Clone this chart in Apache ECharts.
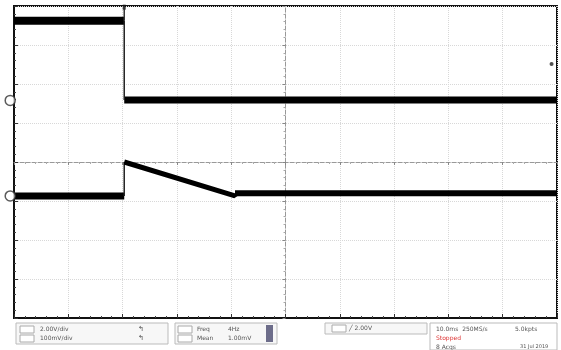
<!DOCTYPE html>
<html>
<head>
<meta charset="utf-8">
<script src="https://cdn.jsdelivr.net/npm/echarts@6/dist/echarts.min.js"></script>
<style>
html,body{margin:0;padding:0;background:#fff;}
#c{width:561px;height:350px;}
</style>
</head>
<body>
<div id="c"></div>
<script>
// Time axis in divisions (-5 .. 5), voltage axis in divisions (-4 .. 4)
const ch1Time   = [-5, -2.97, -2.97, 5];
const ch1Level  = [3.62, 3.62, 1.59, 1.59];
const ch2Time   = [-5, -2.97, -2.97, -0.93, -0.93, 5];
const ch2Level  = [-0.87, -0.87, 0.0, -0.87, -0.80, -0.80];
const groundMarkers = [1.58, -0.87];   // channel ground reference levels
const triggerTime = -2.97;
const triggerLevelMark = [4.9, 2.51];

const statusRow1 = ['2.00V/div', 'Freq', '2.00V', '10.0ms  250MS/s'];
const statusRow2 = ['100mV/div', 'Mean', 'Stopped'];

function pts(t, v){ return t.map((x,i)=>[x, v[i]]); }
const c1 = pts(ch1Time, ch1Level);
const c2 = pts(ch2Time, ch2Level);

const chart = echarts.init(document.getElementById('c'));
const faint = {show:true, lineStyle:{color:'#d8d8d8', type:'dotted', width:1}};

chart.setOption({
  animation:false,
  backgroundColor:'#fff',
  grid:{left:14, right:4, top:6, bottom:32, show:true, borderColor:'#111', borderWidth:2, backgroundColor:'#fff'},
  xAxis:[
    {type:'value', min:-5, max:5, interval:1, position:'bottom',
     axisLine:{show:true, onZero:false, lineStyle:{color:'#111', width:2}},
     axisTick:{show:true, inside:true, length:4, lineStyle:{color:'#333'}},
     minorTick:{show:true, splitNumber:5, length:2, lineStyle:{color:'#444'}},
     axisLabel:{show:false}, splitLine:faint},
    {type:'value', min:-5, max:5, interval:1,
     axisLine:{show:true, onZero:true, onZeroAxisIndex:0, lineStyle:{color:'#999', type:'dashed', width:1}},
     axisTick:{show:true, inside:true, length:3, lineStyle:{color:'#888'}},
     minorTick:{show:true, splitNumber:5, length:2, lineStyle:{color:'#aaa'}},
     axisLabel:{show:false}, splitLine:{show:false}}
  ],
  yAxis:[
    {type:'value', min:-4, max:4, interval:1, position:'left',
     axisLine:{show:true, onZero:false, lineStyle:{color:'#111', width:2}},
     axisTick:{show:true, inside:true, length:4, lineStyle:{color:'#333'}},
     minorTick:{show:true, splitNumber:5, length:2, lineStyle:{color:'#444'}},
     axisLabel:{show:false}, splitLine:faint},
    {type:'value', min:-4, max:4, interval:1,
     axisLine:{show:true, onZero:true, onZeroAxisIndex:0, lineStyle:{color:'#999', type:'dashed', width:1}},
     axisTick:{show:true, inside:true, length:3, lineStyle:{color:'#888'}},
     minorTick:{show:true, splitNumber:5, length:2, lineStyle:{color:'#aaa'}},
     axisLabel:{show:false}, splitLine:{show:false}}
  ],
  series:[
    // Channel 1 flat segments (thick) and fast edge (thin)
    {type:'line', data:[c1[0], c1[1]], symbol:'none', lineStyle:{color:'#000', width:8}},
    {type:'line', data:[c1[2], c1[3]], symbol:'none', lineStyle:{color:'#000', width:7}},
    {type:'line', data:[c1[1], c1[2]], symbol:'none', lineStyle:{color:'#222', width:1.5}},
    // Channel 2
    {type:'line', data:[c2[0], c2[1]], symbol:'none', lineStyle:{color:'#000', width:7}},
    {type:'line', data:[c2[1], c2[2]], symbol:'none', lineStyle:{color:'#222', width:1.5}},
    {type:'line', data:[c2[2], c2[3], c2[4]], symbol:'none', lineStyle:{color:'#000', width:5}},
    {type:'line', data:[c2[4], c2[5]], symbol:'none', lineStyle:{color:'#000', width:6}},
    // vertical edge line from top at trigger
    {type:'line', data:[[triggerTime,4],[triggerTime,3.62]], symbol:'none', lineStyle:{color:'#333', width:1.5}},
    // ground markers
    {type:'scatter', data:groundMarkers.map(v=>[-5.07, v]), symbol:'circle', symbolSize:10, clip:false, z:10,
     itemStyle:{color:'#fff', borderColor:'#333', borderWidth:1.5}},
    // trigger position marker at top
    {type:'scatter', data:[[triggerTime, 3.97]], symbol:'rect', symbolSize:[3,5], clip:false, itemStyle:{color:'#111'}},
    // trigger level marker at right
    {type:'scatter', data:[triggerLevelMark], symbol:'circle', symbolSize:4, itemStyle:{color:'#222'}}
  ],
  graphic:[
    {type:'rect', shape:{x:16,y:323,width:152,height:21}, style:{fill:'#f7f7f7', stroke:'#bbb', lineWidth:1}},
    {type:'rect', shape:{x:20,y:326,width:14,height:7}, style:{fill:'#fff', stroke:'#aaa'}},
    {type:'rect', shape:{x:20,y:335,width:14,height:7}, style:{fill:'#fff', stroke:'#aaa'}},
    {type:'text', x:40, y:326, style:{text:statusRow1[0], fontSize:6, fill:'#555', fontFamily:'DejaVu Sans'}},
    {type:'text', x:40, y:335, style:{text:statusRow2[0], fontSize:6, fill:'#555', fontFamily:'DejaVu Sans'}},
    {type:'text', x:138, y:326, style:{text:'\u21b0', fontSize:7, fill:'#444'}},
    {type:'text', x:138, y:335, style:{text:'\u21b0', fontSize:7, fill:'#444'}},
    {type:'rect', shape:{x:175,y:323,width:102,height:21}, style:{fill:'#f7f7f7', stroke:'#bbb', lineWidth:1}},
    {type:'rect', shape:{x:178,y:326,width:14,height:7}, style:{fill:'#fff', stroke:'#aaa'}},
    {type:'rect', shape:{x:178,y:335,width:14,height:7}, style:{fill:'#fff', stroke:'#aaa'}},
    {type:'text', x:197, y:326, style:{text:statusRow1[1], fontSize:6, fill:'#555', fontFamily:'DejaVu Sans'}},
    {type:'text', x:197, y:335, style:{text:statusRow2[1], fontSize:6, fill:'#555', fontFamily:'DejaVu Sans'}},
    {type:'text', x:228, y:326, style:{text:'4Hz', fontSize:6, fill:'#555', fontFamily:'DejaVu Sans'}},
    {type:'text', x:228, y:335, style:{text:'1.00mV', fontSize:6, fill:'#555', fontFamily:'DejaVu Sans'}},
    {type:'rect', shape:{x:266,y:325,width:7,height:17}, style:{fill:'#6d6d8a'}},
    {type:'rect', shape:{x:325,y:323,width:102,height:11}, style:{fill:'#f7f7f7', stroke:'#bbb', lineWidth:1}},
    {type:'rect', shape:{x:332,y:325,width:14,height:7}, style:{fill:'#fff', stroke:'#aaa'}},
    {type:'text', x:349, y:325, style:{text:'\u2571 ' + statusRow1[2], fontSize:6, fill:'#555', fontFamily:'DejaVu Sans'}},
    {type:'rect', shape:{x:430,y:323,width:127,height:27}, style:{fill:'#fff', stroke:'#bbb', lineWidth:1}},
    {type:'text', x:436, y:326, style:{text:statusRow1[3], fontSize:6, fill:'#555', fontFamily:'DejaVu Sans'}},
    {type:'text', x:515, y:326, style:{text:'5.0kpts', fontSize:6, fill:'#555', fontFamily:'DejaVu Sans'}},
    {type:'text', x:436, y:335, style:{text:statusRow2[2], fontSize:6, fill:'#d33', fontFamily:'DejaVu Sans'}},
    {type:'text', x:436, y:344, style:{text:'8 Acqs', fontSize:6, fill:'#555', fontFamily:'DejaVu Sans'}},
    {type:'text', x:520, y:344, style:{text:'31 Jul 2019', fontSize:5, fill:'#555', fontFamily:'DejaVu Sans'}}
  ]
});
</script>
</body>
</html>
